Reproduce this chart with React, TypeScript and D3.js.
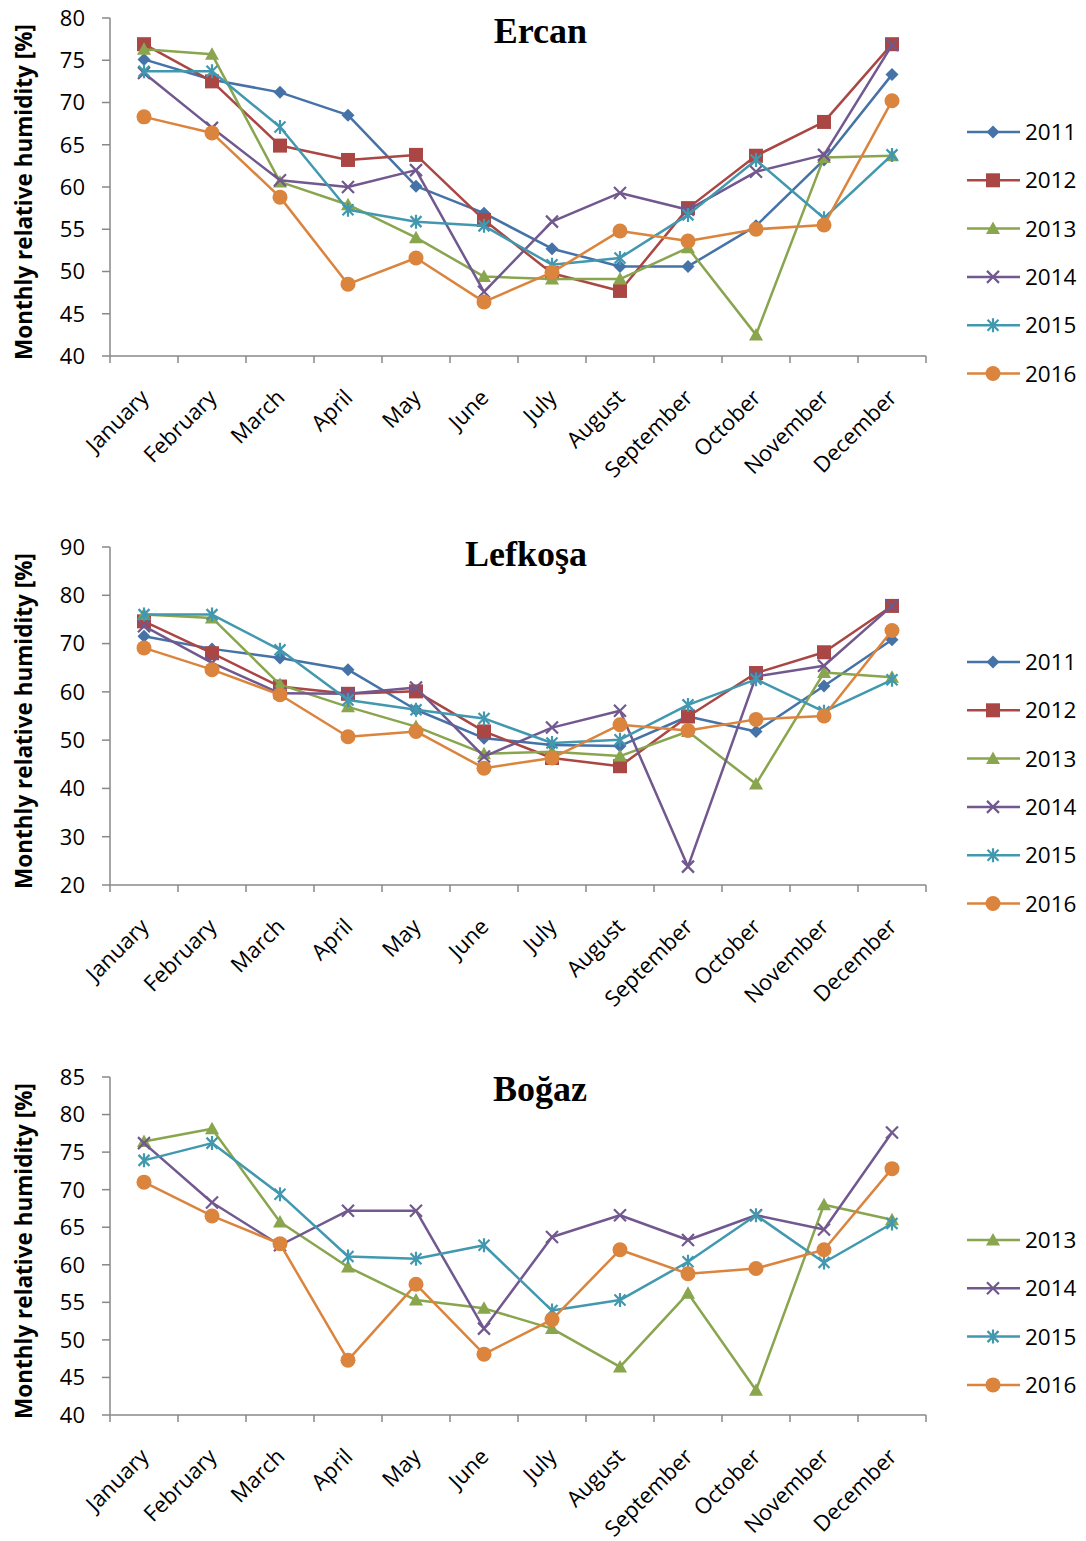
import React from "react";
import * as d3 from "d3";

const months = ["January","February","March","April","May","June","July","August","September","October","November","December"];

const ercan2011 = [75.1, 72.7, 71.2, 68.5, 60.1, 56.9, 52.7, 50.6, 50.6, 55.4, 63.2, 73.3];
const ercan2012 = [76.9, 72.5, 64.9, 63.2, 63.8, 56.1, 49.8, 47.7, 57.5, 63.7, 67.7, 76.9];
const ercan2013 = [76.3, 75.7, 60.6, 57.9, 54.0, 49.4, 49.1, 49.1, 52.8, 42.5, 63.5, 63.7];
const ercan2014 = [73.5, 67.0, 60.8, 60.0, 62.0, 47.6, 55.9, 59.3, 57.3, 61.8, 63.8, 76.8];
const ercan2015 = [73.7, 73.7, 67.1, 57.3, 55.9, 55.4, 50.8, 51.6, 56.7, 63.2, 56.3, 63.8];
const ercan2016 = [68.3, 66.4, 58.8, 48.5, 51.6, 46.4, 49.9, 54.8, 53.6, 55.0, 55.5, 70.2];

const lefkosa2011 = [71.5, 68.9, 67.0, 64.6, 56.3, 50.4, 49.0, 48.8, 54.9, 51.8, 61.2, 70.8];
const lefkosa2012 = [74.6, 68.0, 61.1, 59.6, 60.1, 51.8, 46.3, 44.6, 54.9, 63.9, 68.2, 77.8];
const lefkosa2013 = [76.0, 75.3, 61.5, 56.9, 52.8, 47.2, 47.6, 46.7, 51.8, 40.9, 64.0, 63.0];
const lefkosa2014 = [73.6, 66.0, 59.7, 59.6, 60.9, 46.6, 52.6, 56.1, 23.8, 63.2, 65.4, 77.8];
const lefkosa2015 = [76.0, 76.0, 68.7, 58.3, 56.3, 54.5, 49.4, 50.1, 57.3, 62.6, 55.9, 62.5];
const lefkosa2016 = [69.1, 64.6, 59.4, 50.7, 51.8, 44.2, 46.3, 53.2, 52.0, 54.3, 55.0, 72.7];

const bogaz2013 = [76.4, 78.1, 65.7, 59.7, 55.3, 54.2, 51.5, 46.4, 56.2, 43.3, 68.0, 66.0];
const bogaz2014 = [76.2, 68.3, 62.6, 67.2, 67.2, 51.5, 63.7, 66.6, 63.3, 66.6, 64.7, 77.6];
const bogaz2015 = [73.9, 76.2, 69.4, 61.1, 60.8, 62.6, 53.9, 55.3, 60.4, 66.6, 60.3, 65.5];
const bogaz2016 = [71.0, 66.5, 62.8, 47.3, 57.4, 48.1, 52.7, 62.0, 58.8, 59.5, 62.0, 72.8];

const yearColors: Record<string, string> = {
  "2011": "#4572A7",
  "2012": "#AA4643",
  "2013": "#89A54E",
  "2014": "#71588F",
  "2015": "#4198AF",
  "2016": "#DB843D",
};
const yearMarkers: Record<string, string> = {
  "2011": "diamond",
  "2012": "square",
  "2013": "triangle",
  "2014": "x",
  "2015": "star",
  "2016": "circle",
};

type Series = { year: string; values: number[] };
type Panel = {
  title: string;
  titleY: number;
  top: number;
  bottom: number;
  min: number;
  max: number;
  step: number;
  legendY0: number;
  series: Series[];
};

const panels: Panel[] = [
  {
    title: "Ercan", titleY: 43, top: 18, bottom: 356, min: 40, max: 80, step: 5, legendY0: 132,
    series: [
      { year: "2011", values: ercan2011 },
      { year: "2012", values: ercan2012 },
      { year: "2013", values: ercan2013 },
      { year: "2014", values: ercan2014 },
      { year: "2015", values: ercan2015 },
      { year: "2016", values: ercan2016 },
    ],
  },
  {
    title: "Lefkoşa", titleY: 566, top: 547, bottom: 885, min: 20, max: 90, step: 10, legendY0: 662,
    series: [
      { year: "2011", values: lefkosa2011 },
      { year: "2012", values: lefkosa2012 },
      { year: "2013", values: lefkosa2013 },
      { year: "2014", values: lefkosa2014 },
      { year: "2015", values: lefkosa2015 },
      { year: "2016", values: lefkosa2016 },
    ],
  },
  {
    title: "Boğaz", titleY: 1101, top: 1077, bottom: 1415, min: 40, max: 85, step: 5, legendY0: 1240,
    series: [
      { year: "2013", values: bogaz2013 },
      { year: "2014", values: bogaz2014 },
      { year: "2015", values: bogaz2015 },
      { year: "2016", values: bogaz2016 },
    ],
  },
];

const LEFT = 110;
const RIGHT = 926;
const AXIS = "#888888";
const FONT = "'Open Sans', 'DejaVu Sans', sans-serif";

function Marker({ type, x, y, color }: { type: string; x: number; y: number; color: string }) {
  switch (type) {
    case "diamond":
      return <path d={`M${x},${y - 6.5}L${x + 6.5},${y}L${x},${y + 6.5}L${x - 6.5},${y}Z`} fill={color} />;
    case "square":
      return <rect x={x - 7} y={y - 7} width={14} height={14} fill={color} />;
    case "triangle":
      return <path d={`M${x},${y - 7}L${x + 7},${y + 5.5}L${x - 7},${y + 5.5}Z`} fill={color} />;
    case "x":
      return (
        <path d={`M${x - 6},${y - 6}L${x + 6},${y + 6}M${x - 6},${y + 6}L${x + 6},${y - 6}`} stroke={color} strokeWidth={2.2} fill="none" />
      );
    case "star":
      return (
        <path d={`M${x - 5.5},${y - 5.5}L${x + 5.5},${y + 5.5}M${x - 5.5},${y + 5.5}L${x + 5.5},${y - 5.5}M${x},${y - 7}L${x},${y + 7}`} stroke={color} strokeWidth={2.2} fill="none" />
      );
    default:
      return <circle cx={x} cy={y} r={7.5} fill={color} />;
  }
}

function ChartPanel({ p }: { p: Panel }) {
  const x = d3.scaleBand<string>().domain(months).range([LEFT, RIGHT]);
  const y = d3.scaleLinear().domain([p.min, p.max]).range([p.bottom, p.top]);
  const ticks = d3.range(p.min, p.max + 0.001, p.step);
  const cx = (m: string) => (x(m) as number) + x.bandwidth() / 2;
  const line = d3
    .line<number>()
    .x((_, i) => cx(months[i]))
    .y((v) => y(v));
  const boundaries = months.map((m) => x(m) as number).concat([RIGHT]);
  const midY = (p.top + p.bottom) / 2 + 5;
  return (
    <g>
      {/* y axis */}
      <line x1={LEFT} x2={LEFT} y1={p.top} y2={p.bottom} stroke={AXIS} strokeWidth={1.5} />
      {ticks.map((t) => (
        <g key={t}>
          <line x1={LEFT - 8} x2={LEFT} y1={y(t)} y2={y(t)} stroke={AXIS} strokeWidth={1.5} />
          <text x={85} y={y(t)} dy="0.36em" textAnchor="end" fontSize={22} fontFamily={FONT} fill="#000">
            {t}
          </text>
        </g>
      ))}
      {/* x axis */}
      <line x1={LEFT} x2={RIGHT} y1={p.bottom} y2={p.bottom} stroke={AXIS} strokeWidth={1.5} />
      {boundaries.map((b, i) => (
        <line key={i} x1={b} x2={b} y1={p.bottom} y2={p.bottom + 7} stroke={AXIS} strokeWidth={1.5} />
      ))}
      {months.map((m) => (
        <text
          key={m}
          transform={`translate(${cx(m) + 6},${p.bottom + 43}) rotate(-45)`}
          textAnchor="end"
          fontSize={22}
          fontFamily={FONT}
          fill="#000"
        >
          {m}
        </text>
      ))}
      {/* y title */}
      <text
        transform={`translate(23,${midY}) rotate(-90)`}
        textAnchor="middle"
        dominantBaseline="central"
        fontSize={22.5}
        fontWeight="bold"
        fontFamily={FONT}
        fill="#000"
      >
        Monthly relative humidity [%]
      </text>
      {/* title */}
      <text x={587} y={p.titleY} textAnchor="end" fontSize={36} fontWeight="bold" fontFamily="'Liberation Serif', 'Times New Roman', serif" fill="#000">
        {p.title}
      </text>
      {/* series */}
      {p.series.map((s) => {
        const c = yearColors[s.year];
        return (
          <g key={s.year}>
            <path d={line(s.values) || ""} fill="none" stroke={c} strokeWidth={2.5} strokeLinejoin="round" />
            {s.values.map((v, i) => (
              <Marker key={i} type={yearMarkers[s.year]} x={cx(months[i])} y={y(v)} color={c} />
            ))}
          </g>
        );
      })}
      {/* legend */}
      {p.series.map((s, i) => {
        const ly = p.legendY0 + i * 48.3;
        const c = yearColors[s.year];
        return (
          <g key={s.year}>
            <line x1={967} x2={1020} y1={ly} y2={ly} stroke={c} strokeWidth={2.5} />
            <Marker type={yearMarkers[s.year]} x={993} y={ly} color={c} />
            <text x={1025} y={ly} dy="0.36em" fontSize={22.5} fontFamily={FONT} fill="#000">
              {s.year}
            </text>
          </g>
        );
      })}
    </g>
  );
}

export default function App() {
  return (
    <svg
      width={1086}
      height={1541}
      style={{ position: "absolute", left: 0, top: 0, background: "#fff" }}
      xmlns="http://www.w3.org/2000/svg"
    >
      <rect x={0} y={0} width={1086} height={1541} fill="#fff" />
      {panels.map((p) => (
        <ChartPanel key={p.title} p={p} />
      ))}
    </svg>
  );
}
